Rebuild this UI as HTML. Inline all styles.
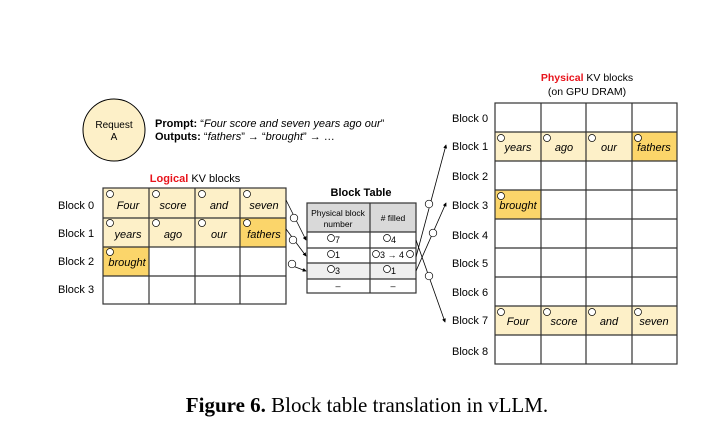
<!DOCTYPE html>
<html><head><style>
html,body{margin:0;padding:0;background:#fff;}
svg{display:block;font-family:"Liberation Sans",sans-serif;}
.i{font-style:italic;font-size:11px;}
.s{font-size:11px;}
.c{fill:#fff;stroke:#000;stroke-width:0.7;}
.cn{font-size:6px;}
</style></head><body>
<svg width="702" height="436" viewBox="0 0 702 436" xmlns="http://www.w3.org/2000/svg">
<defs><marker id="a" viewBox="0 0 6 6" refX="5" refY="3" markerWidth="5" markerHeight="5" orient="auto"><path d="M0,0L6,3L0,6z" fill="#000"/></marker></defs>
<!-- Request circle -->
<circle cx="114" cy="130" r="31" fill="#fdf0c8" stroke="#000" stroke-width="1"/>
<text x="114" y="128" class="s" font-size="10" text-anchor="middle" style="font-size:10px">Request</text>
<text x="114" y="140" text-anchor="middle" style="font-size:10px">A</text>
<text x="155" y="127" style="font-size:11px"><tspan font-weight="bold">Prompt:</tspan> “<tspan font-style="italic">Four score and seven years ago our</tspan>”</text>
<text x="155" y="140" style="font-size:11px"><tspan font-weight="bold">Outputs:</tspan> “<tspan font-style="italic">fathers</tspan>” → “<tspan font-style="italic">brought</tspan>” → …</text>

<!-- Logical -->
<text x="195" y="182" text-anchor="middle" style="font-size:11px"><tspan fill="#e8141c" font-weight="bold">Logical</tspan> KV blocks</text>
<g fill="#fdf0c8">
<rect x="103" y="188" width="183" height="59"/>
</g>
<rect x="240" y="218" width="46" height="29" fill="#fbd56a"/>
<rect x="103" y="247" width="46" height="29" fill="#fbd56a"/>
<g stroke="#333" stroke-width="1.2" fill="none">
<rect x="103" y="188" width="183" height="116"/>
<path d="M149 188V304M195 188V304M240 188V304M103 218H286M103 247H286M103 276H286"/>
</g>
<g style="font-size:11px">
<text x="58" y="209">Block 0</text><text x="58" y="237">Block 1</text><text x="58" y="265">Block 2</text><text x="58" y="293">Block 3</text>
</g>
<g class="i" text-anchor="middle">
<text x="128" y="209">Four</text><text x="173" y="209">score</text><text x="219" y="209">and</text><text x="264" y="209">seven</text>
<text x="128" y="238">years</text><text x="173" y="238">ago</text><text x="219" y="238">our</text><text x="264" y="238">fathers</text>
<text x="127" y="266">brought</text>
</g>
<g>
<circle class="c" cx="110" cy="194" r="3.5"/><circle class="c" cx="156" cy="194" r="3.5"/><circle class="c" cx="202" cy="194" r="3.5"/><circle class="c" cx="247" cy="194" r="3.5"/>
<circle class="c" cx="110" cy="223" r="3.5"/><circle class="c" cx="156" cy="223" r="3.5"/><circle class="c" cx="202" cy="223" r="3.5"/><circle class="c" cx="247" cy="223" r="3.5"/>
<circle class="c" cx="110" cy="252" r="3.5"/>
</g>

<!-- Block table -->
<text x="361" y="196" text-anchor="middle" font-weight="bold" style="font-size:11px">Block Table</text>
<rect x="307" y="203" width="109" height="29" fill="#d9d9d9"/>
<rect x="307" y="263" width="109" height="16" fill="#efefef"/>
<g stroke="#333" stroke-width="1.2" fill="none">
<rect x="307" y="203" width="109" height="90"/>
<path d="M370 203V293M307 232H416M307 248H416M307 263H416M307 279H416"/>
</g>
<text x="338" y="216" text-anchor="middle" style="font-size:8.5px">Physical block</text>
<text x="338" y="227" text-anchor="middle" style="font-size:8.5px">number</text>
<text x="393" y="221" text-anchor="middle" style="font-size:8.5px"># filled</text>
<g style="font-size:9px">
<circle class="c" cx="331" cy="238" r="3.5"/><text x="335" y="243">7</text>
<circle class="c" cx="387" cy="238" r="3.5"/><text x="391" y="243">4</text>
<circle class="c" cx="331" cy="254" r="3.5"/><text x="335" y="258">1</text>
<circle class="c" cx="376" cy="254" r="3.5"/><text x="380" y="258">3 → 4</text><circle class="c" cx="410" cy="254" r="3.5"/>
<circle class="c" cx="331" cy="269" r="3.5"/><text x="335" y="274">3</text>
<circle class="c" cx="387" cy="269" r="3.5"/><text x="391" y="274">1</text>
<text x="338" y="289" text-anchor="middle">–</text><text x="393" y="289" text-anchor="middle">–</text>
</g>

<!-- arrows -->
<g stroke="#000" stroke-width="0.8" fill="none" marker-end="url(#a)">
<path d="M286 200L306 240"/>
<path d="M286 229L306 256"/>
<path d="M290 265L306 271"/>
<path d="M416 257L446 145"/>
<path d="M416 271L446 203"/>
<path d="M416 240L445 322"/>
</g>
<g>
<circle class="c" cx="294" cy="218" r="3.8"/><circle class="c" cx="293" cy="240" r="3.8"/><circle class="c" cx="292" cy="264" r="3.8"/>
<circle class="c" cx="429" cy="204" r="3.8"/><circle class="c" cx="433" cy="233" r="3.8"/><circle class="c" cx="429" cy="276" r="3.8"/>
</g>

<!-- Physical -->
<text x="587" y="81" text-anchor="middle" style="font-size:10.5px"><tspan fill="#e8141c" font-weight="bold">Physical</tspan> KV blocks</text>
<text x="587" y="95" text-anchor="middle" style="font-size:10.5px">(on GPU DRAM)</text>
<rect x="495" y="132" width="182" height="29" fill="#fdf0c8"/>
<rect x="632" y="132" width="45" height="29" fill="#fbd56a"/>
<rect x="495" y="190" width="46" height="29" fill="#fbd56a"/>
<rect x="495" y="306" width="182" height="29" fill="#fdf0c8"/>
<g stroke="#333" stroke-width="1.2" fill="none">
<rect x="495" y="103" width="182" height="261"/>
<path d="M541 103V364M586 103V364M632 103V364M495 132H677M495 161H677M495 190H677M495 219H677M495 248H677M495 277H677M495 306H677M495 335H677"/>
</g>
<g style="font-size:11px">
<text x="452" y="122">Block 0</text><text x="452" y="150">Block 1</text><text x="452" y="180">Block 2</text><text x="452" y="209">Block 3</text><text x="452" y="239">Block 4</text><text x="452" y="267">Block 5</text><text x="452" y="296">Block 6</text><text x="452" y="324">Block 7</text><text x="452" y="355">Block 8</text>
</g>
<g class="i" text-anchor="middle">
<text x="518" y="151">years</text><text x="564" y="151">ago</text><text x="609" y="151">our</text><text x="654" y="151">fathers</text>
<text x="518" y="209">brought</text>
<text x="518" y="325">Four</text><text x="564" y="325">score</text><text x="609" y="325">and</text><text x="654" y="325">seven</text>
</g>
<g>
<circle class="c" cx="501" cy="138" r="3.5"/><circle class="c" cx="547" cy="138" r="3.5"/><circle class="c" cx="592" cy="138" r="3.5"/><circle class="c" cx="638" cy="138" r="3.5"/>
<circle class="c" cx="501" cy="196" r="3.5"/>
<circle class="c" cx="501" cy="312" r="3.5"/><circle class="c" cx="547" cy="312" r="3.5"/><circle class="c" cx="592" cy="312" r="3.5"/><circle class="c" cx="638" cy="312" r="3.5"/>
</g>

<text x="367" y="412" text-anchor="middle" font-family="Liberation Serif, serif" style="font-family:'Liberation Serif',serif;font-size:21px"><tspan font-weight="bold">Figure 6.</tspan> Block table translation in vLLM.</text>
</svg>
</body></html>
